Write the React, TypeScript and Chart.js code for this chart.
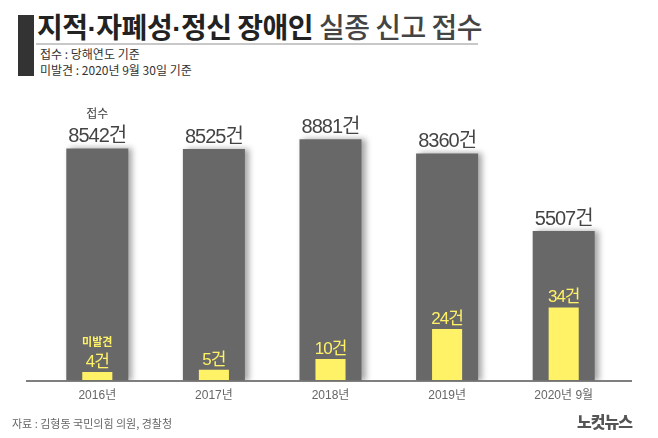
import React, { useEffect, useRef } from "react";
import { Chart, registerables } from "chart.js";

Chart.register(...registerables);

const categories = ["2016년", "2017년", "2018년", "2019년", "2020년 9월"];
const reports = [8542, 8525, 8881, 8360, 5507];
const missing = [4, 5, 10, 24, 34];
const unit = "건";
const reportTag = "접수";
const missingTag = "미발견";

const FONT = "'Liberation Sans', 'Noto Sans CJK KR', sans-serif";
const GRAY = "#686868";
const YELLOW = "#fff266";

const shadowPlugin = {
  id: "barShadow",
  beforeDatasetDraw(chart: any, args: any) {
    if (args.meta.yAxisID === "y") {
      const ctx = chart.ctx;
      ctx.save();
      ctx.shadowColor = "rgba(0,0,0,0.35)";
      ctx.shadowBlur = 6;
      ctx.shadowOffsetX = 4;
      ctx.shadowOffsetY = 0;
    }
  },
  afterDatasetDraw(chart: any, args: any) {
    if (args.meta.yAxisID === "y") chart.ctx.restore();
  },
};

const labelPlugin = {
  id: "labels",
  afterDatasetsDraw(chart: any) {
    const ctx = chart.ctx;
    const area = chart.chartArea;
    ctx.save();
    ctx.strokeStyle = "#555";
    ctx.lineWidth = 1.5;
    ctx.beginPath();
    ctx.moveTo(26, area.bottom + 0.5);
    ctx.lineTo(632, area.bottom + 0.5);
    ctx.stroke();

    ctx.textAlign = "center";
    ctx.textBaseline = "alphabetic";
    chart.data.datasets.forEach((ds: any, di: number) => {
      const meta = chart.getDatasetMeta(di);
      const isGray = meta.yAxisID === "y";
      meta.data.forEach((bar: any, i: number) => {
        const v = ds.data[i];
        if (isGray) {
          ctx.fillStyle = "#444";
          ctx.font = `20px ${FONT}`;
          (ctx as any).letterSpacing = "-1px";
          ctx.fillText(`${v}${unit}`, bar.x, bar.y - 6);
          if (i === 0) {
            (ctx as any).letterSpacing = "0px";
            ctx.font = `12px ${FONT}`;
            ctx.fillText(reportTag, bar.x, bar.y - 30);
          }
        } else {
          ctx.fillStyle = YELLOW;
          ctx.font = `17px ${FONT}`;
          (ctx as any).letterSpacing = "-1px";
          ctx.fillText(`${v}${unit}`, bar.x, bar.y - 5);
          if (i === 0) {
            (ctx as any).letterSpacing = "0px";
            ctx.font = `bold 11px ${FONT}`;
            ctx.fillText(missingTag, bar.x, bar.y - 26);
          }
        }
      });
    });
    ctx.restore();
  },
};

export default function App() {
  const ref = useRef<HTMLCanvasElement>(null);
  useEffect(() => {
    if (!ref.current) return;
    const chart = new Chart(ref.current, {
      type: "bar",
      data: {
        labels: categories,
        datasets: [
          {
            label: "접수",
            data: reports,
            backgroundColor: GRAY,
            yAxisID: "y",
            grouped: false,
            order: 1,
            categoryPercentage: 1,
            barPercentage: 0.532,
          } as any,
          {
            label: "미발견",
            data: missing,
            backgroundColor: YELLOW,
            yAxisID: "y2",
            grouped: false,
            order: 0,
            categoryPercentage: 1,
            barPercentage: 0.258,
          } as any,
        ],
      },
      options: {
        animation: false,
        responsive: true,
        maintainAspectRatio: false,
        layout: { padding: { top: 105, left: 39, right: 36, bottom: 27 } },
        plugins: { legend: { display: false }, tooltip: { enabled: false } },
        scales: {
          x: {
            grid: { display: false, drawTicks: false },
            border: { display: false },
            ticks: { color: "#666", font: { size: 12, family: FONT }, padding: 8 },
          },
          y: { display: false, min: 0, max: 10140 },
          y2: { display: false, min: 0, max: 128 },
        },
      },
      plugins: [shadowPlugin, labelPlugin],
    });
    return () => chart.destroy();
  }, []);

  const base: React.CSSProperties = { position: "absolute", whiteSpace: "nowrap" };
  const dot = <span style={{ fontFamily: "'Liberation Sans', sans-serif", fontWeight: 700 }}>·</span>;
  return (
    <div
      style={{
        position: "absolute",
        left: 0,
        top: 0,
        width: 658,
        height: 438,
        background: "#fff",
        fontFamily: "'Noto Sans CJK KR', sans-serif",
        overflow: "hidden",
      }}
    >
      <div style={{ ...base, left: 18, top: 15, width: 16, height: 61, background: "#333" }} />
      <div
        style={{
          ...base,
          left: 37,
          top: 9,
          fontSize: 28,
          lineHeight: "34px",
          letterSpacing: -0.5,
        }}
      >
        <span style={{ fontWeight: 700, color: "#222" }}>
          지적{dot}자폐성{dot}정신 장애인
        </span>
        <span style={{ fontWeight: 500, color: "#444" }}> 실종 신고 접수</span>
      </div>
      <div style={{ ...base, left: 36, top: 43, width: 442, height: 2, background: "#c8c8c8" }} />
      <div style={{ ...base, left: 40, top: 46, fontSize: 12, lineHeight: "16px", color: "#333" }}>
        접수 : 당해연도 기준
      </div>
      <div style={{ ...base, left: 40, top: 62, fontSize: 12, lineHeight: "16px", color: "#333" }}>
        미발견 : 2020년 9월 30일 기준
      </div>
      <div style={{ position: "absolute", left: 0, top: 0, width: 658, height: 438 }}>
        <canvas ref={ref} />
      </div>
      <div style={{ ...base, left: 12, top: 415, fontSize: 11, lineHeight: "16px", color: "#666" }}>
        자료 : 김형동 국민의힘 의원, 경찰청
      </div>
      <div
        style={{
          ...base,
          left: 577,
          top: 411,
          fontSize: 16,
          lineHeight: "20px",
          fontWeight: 900,
          color: "#555",
          letterSpacing: -1,
        }}
      >
        노컷뉴스
      </div>
    </div>
  );
}
